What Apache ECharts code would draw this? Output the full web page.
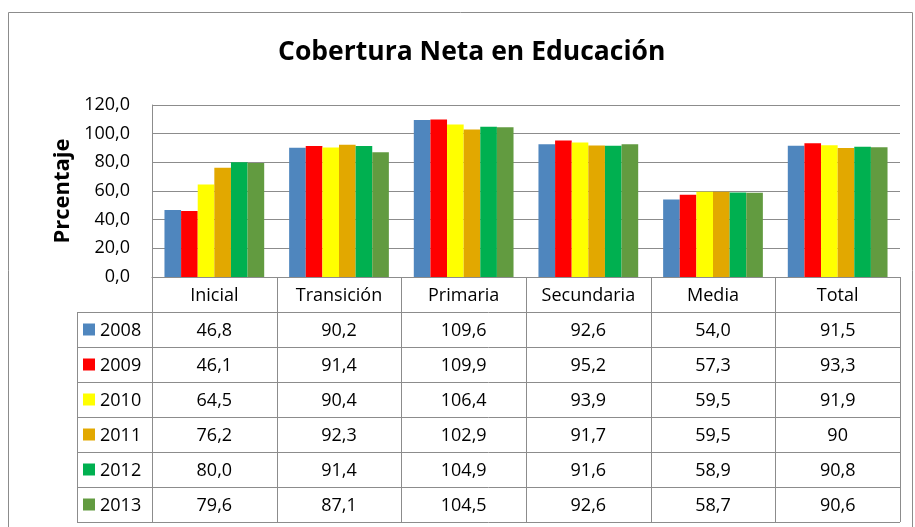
<!DOCTYPE html>
<html>
<head>
<meta charset="utf-8">
<script src="https://cdn.jsdelivr.net/npm/echarts@6/dist/echarts.min.js"></script>
<style>
  html, body { margin: 0; padding: 0; background: #fff; }
  #chart { width: 915px; height: 527px; }
</style>
</head>
<body>
<div id="chart"></div>
<script>
  const categories = ['Inicial', 'Transición', 'Primaria', 'Secundaria', 'Media', 'Total'];
  const years = ['2008', '2009', '2010', '2011', '2012', '2013'];
  // values as printed in the data table
  const v2008 = ['46,8', '90,2', '109,6', '92,6', '54,0', '91,5'];
  const v2009 = ['46,1', '91,4', '109,9', '95,2', '57,3', '93,3'];
  const v2010 = ['64,5', '90,4', '106,4', '93,9', '59,5', '91,9'];
  const v2011 = ['76,2', '92,3', '102,9', '91,7', '59,5', '90'];
  const v2012 = ['80,0', '91,4', '104,9', '91,6', '58,9', '90,8'];
  const v2013 = ['79,6', '87,1', '104,5', '92,6', '58,7', '90,6'];
  const yTicks = [0, 20, 40, 60, 80, 100, 120];

  const rows = [v2008, v2009, v2010, v2011, v2012, v2013];
  const colors = ['#4F86BE', '#FF0000', '#FFFF00', '#E2A800', '#00B050', '#629B40'];
  const toNum = s => Number(s.replace(',', '.'));
  const font = 'Open Sans';
  const lineCol = '#8c8c8c';

  const chart = echarts.init(document.getElementById('chart'));
  let option = {
    animation: false,
    title: {
      text: 'Cobertura Neta en Educación',
      left: 273,
      top: 34,
      textStyle: { fontFamily: font, fontSize: 26.5, fontWeight: 'bold', color: '#000' }
    },
    grid: { left: 152, right: 15, top: 105, bottom: 250 },
    xAxis: {
      type: 'category',
      data: categories,
      axisTick: { show: false },
      axisLabel: { show: false },
      axisLine: { lineStyle: { color: lineCol } }
    },
    yAxis: {
      type: 'value',
      min: yTicks[0],
      max: yTicks[yTicks.length - 1],
      interval: yTicks[1] - yTicks[0],
      name: 'Prcentaje',
      nameLocation: 'middle',
      nameRotate: 90,
      nameGap: 78,
      nameTextStyle: { fontFamily: font, fontSize: 22, fontWeight: 'bold', color: '#000' },
      axisLine: { show: true, lineStyle: { color: lineCol } },
      axisTick: { show: false },
      splitLine: { lineStyle: { color: lineCol } },
      axisLabel: {
        margin: 22,
        fontFamily: font, fontSize: 18, color: '#000',
        formatter: v => v.toFixed(1).replace('.', ',')
      }
    },
    series: years.map((y, i) => ({
      name: y,
      type: 'bar',
      data: rows[i].map(toNum),
      barGap: '0%',
      barCategoryGap: '20%',
      itemStyle: { color: colors[i] }
    }))
  };
  chart.setOption(option);

  // data table under the plot, placed from the axes
  function buildTable() {
    const c0 = chart.convertToPixel({ xAxisIndex: 0 }, categories[0]);
    const c1 = chart.convertToPixel({ xAxisIndex: 0 }, categories[1]);
    const band = c1 - c0;
    const xLeft = c0 - band / 2;
    const xRight = xLeft + band * categories.length;
    const yTop = chart.convertToPixel({ yAxisIndex: 0 }, 0);
    const rowH = 35;
    const keyW = 75;
    const nRows = years.length + 1;
    const els = [];
    const line = (x1, y1, x2, y2) => ({
      type: 'line', silent: true,
      shape: { x1, y1, x2, y2 },
      style: { stroke: lineCol, lineWidth: 1 }
    });
    const txt = (x, y, text, align) => ({
      type: 'text', silent: true, x, y,
      style: { text, fontFamily: font, fontSize: 18, fill: '#000', align: align || 'center', verticalAlign: 'middle' }
    });

    // outer chart border
    els.push({ type: 'rect', silent: true, shape: { x: 8.5, y: 12.5, width: 904, height: 540 },
      style: { fill: 'none', stroke: lineCol, lineWidth: 1 } });

    // horizontal rules
    for (let k = 1; k <= nRows; k++) {
      const y = Math.round(yTop + rowH * k) + 0.5;
      els.push(line(xLeft - keyW, y, xRight, y));
    }
    // vertical rules
    for (let c = 0; c <= categories.length; c++) {
      const x = Math.round(xLeft + band * c) + 0.5;
      els.push(line(x, yTop, x, yTop + rowH * nRows));
    }
    const xk = Math.round(xLeft - keyW) + 0.5;
    els.push(line(xk, yTop + rowH, xk, yTop + rowH * nRows));

    // header
    categories.forEach((cat, c) => {
      els.push(txt(xLeft + band * (c + 0.5), yTop + rowH / 2 + 1, cat));
    });
    // rows
    years.forEach((yr, r) => {
      const yc = yTop + rowH * (r + 1.5) + 1;
      els.push({ type: 'rect', silent: true,
        shape: { x: xLeft - keyW + 6, y: yc - 7, width: 12, height: 12 },
        style: { fill: colors[r] } });
      els.push(txt(xLeft - keyW + 23, yc, yr, 'left'));
      rows[r].forEach((s, c) => {
        els.push(txt(xLeft + band * (c + 0.5), yc, s));
      });
    });
    chart.setOption({ graphic: els });
  }
  buildTable();
</script>
</body>
</html>
